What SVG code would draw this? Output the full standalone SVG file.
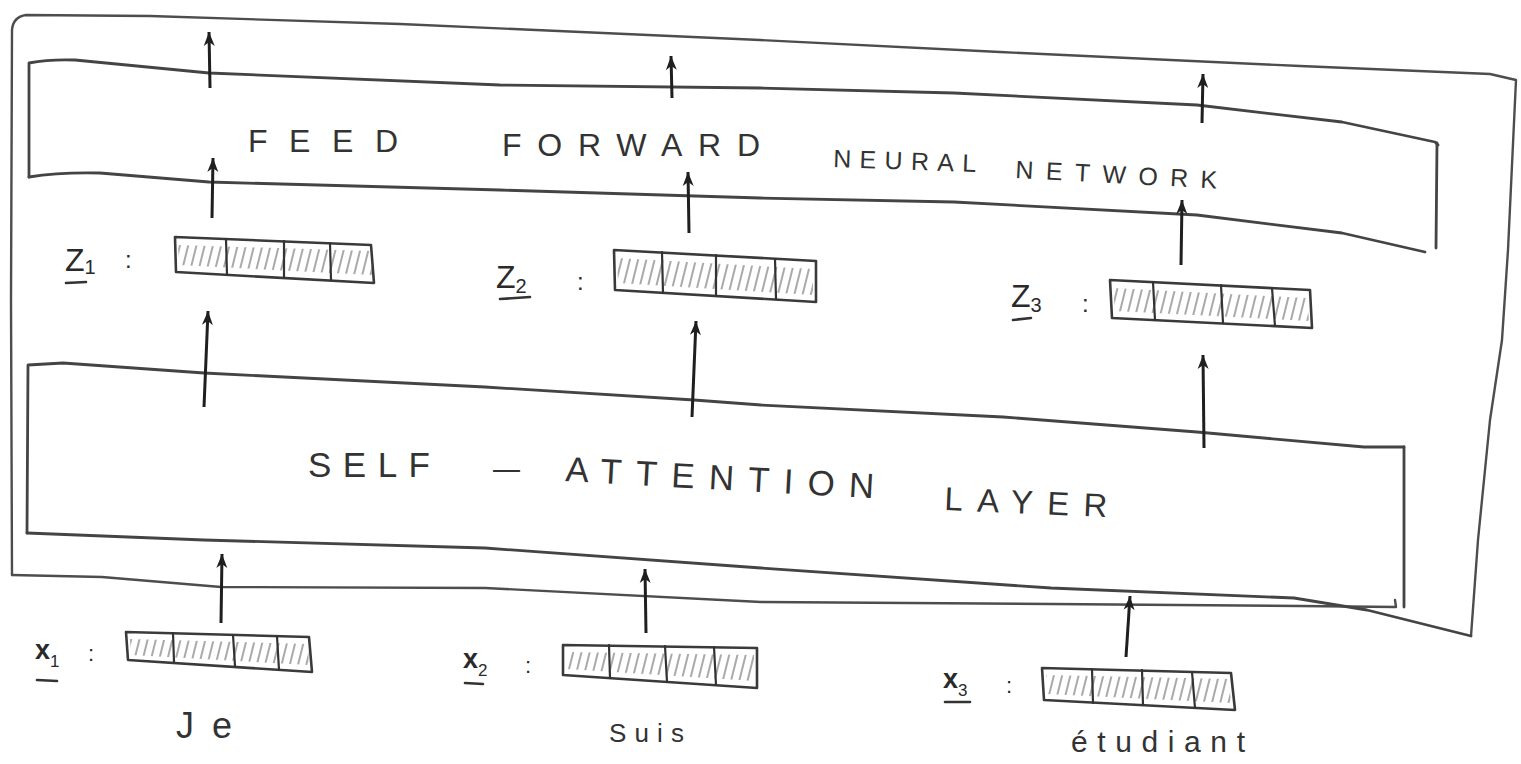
<svg xmlns="http://www.w3.org/2000/svg" width="1521" height="764" viewBox="0 0 1521 764">
  <style>
    .frame { fill: none; stroke: #4d4d4d; stroke-width: 2.4; stroke-linejoin: round; stroke-linecap: round; }
    .box { fill: none; stroke: #444; stroke-width: 2.8; stroke-linejoin: round; stroke-linecap: round; }
    .vec { fill: none; stroke: #3a3a3a; stroke-width: 2.6; stroke-linejoin: round; }
    .div { stroke: #333; stroke-width: 2.2; stroke-linecap: round; }
    .hatchfill { fill: url(#hatch); stroke: none; }
    .arrow { stroke: #1f1f1f; stroke-width: 3; fill: none; stroke-linecap: butt; marker-end: url(#head); }
    .ul { stroke: #333; stroke-width: 2.6; stroke-linecap: round; }
    .t { font-family: "Liberation Sans", Arial, sans-serif; fill: #333; }
    .lab { font-family: "Liberation Sans", Arial, sans-serif; fill: #2a2a2a; }
    .word { font-family: "Liberation Sans", Arial, sans-serif; fill: #333; }
  </style>
  <defs>
    <marker id="head" viewBox="-15 -6 16 12" refX="0" refY="0" markerWidth="16" markerHeight="12" markerUnits="userSpaceOnUse" orient="auto">
      <path d="M0,0 L-14,-5.5 L-10,0 L-14,5.5 Z" fill="#1f1f1f"/>
    </marker>
    <pattern id="hatch" width="8" height="8" patternUnits="userSpaceOnUse" patternTransform="rotate(14)">
      <line x1="2" y1="0" x2="2" y2="8" stroke="#707070" stroke-width="1.2"/>
    </pattern>
  </defs>

  <rect width="1521" height="764" fill="#ffffff"/>

  <!-- encoder outline -->
  <g id="encoder">
    <path class="frame" d="M12,575 L11,300 L12,30 Q13,17 26,15 L150,16 L400,24 L760,40 L1000,52 L1300,66 L1490,74 L1516,80 L1508,250 L1502,340 L1490,420 L1478,540 L1471,636"/>
    <path class="frame" d="M12,575 L102,577 L221,587 L485,588 L761,602 L1051,604 L1300,606 L1396,607 L1395,600"/>
  </g>

  <!-- feed forward block -->
  <g id="ffn">
    <path class="box" d="M29,177 L29,63 Q50,59 75,60 L209,73 L500,85 L760,88 L954,93 L1197,105 L1342,122 L1435,142 L1438,145"/>
    <path class="box" d="M1437,143 L1436,248"/>
    <path class="box" d="M29,177 Q60,172 100,173 L209,182 L500,190 L760,198 L954,202 L1197,215 L1342,233 L1425,252"/>
    <text class="t" x="248" y="152" font-size="32" textLength="150" lengthAdjust="spacing">FEED</text>
    <text class="t" x="502" y="156" font-size="32" textLength="258" lengthAdjust="spacing">FORWARD</text>
    <text class="t" x="833" y="167" font-size="25" textLength="143" lengthAdjust="spacing" transform="rotate(2 833 167)">NEURAL</text>
    <text class="t" x="1015" y="178" font-size="25" textLength="202" lengthAdjust="spacing" transform="rotate(3 1015 178)">NETWORK</text>
  </g>

  <!-- self-attention block -->
  <g id="self-attention">
    <path class="box" d="M27,533 L28,365 L63,363 L204,373 L485,387 L694,400 L761,405 L1003,417 L1197,432 L1364,447 L1404,447"/>
    <path class="box" d="M1404,447 L1404,607"/>
    <path class="box" d="M27,533 L204,540 L485,548 L761,568 L1051,588 L1294,598 L1367,610 L1471,636"/>
    <text class="t" x="308" y="477" font-size="35" textLength="122" lengthAdjust="spacing">SELF</text>
    <text class="t" x="493" y="479" font-size="32" textLength="27" lengthAdjust="spacingAndGlyphs">—</text>
    <text class="t" x="565" y="481" font-size="35" textLength="309" lengthAdjust="spacing" transform="rotate(3.2 565 481)">ATTENTION</text>
    <text class="t" x="944" y="510" font-size="33" textLength="163" lengthAdjust="spacing" transform="rotate(2.5 944 510)">LAYER</text>
  </g>

  <!-- attention outputs z1..z3 -->
  <g id="z1">
    <polygon class="hatchfill" points="178,245 371,251 372,275 179,265"/>
    <polygon class="vec" points="175,237 371,245 374,283 176,272"/>
    <line class="div" x1="226" y1="239" x2="227" y2="275"/>
    <line class="div" x1="284" y1="241" x2="284" y2="278"/>
    <line class="div" x1="330" y1="243" x2="331" y2="280"/>
    <text class="lab" x="65" y="271" font-size="32">Z<tspan font-size="20" dy="3">1</tspan></text>
    <text class="lab" x="125" y="268" font-size="24">:</text>
    <line class="ul" x1="66" y1="283" x2="86" y2="282"/>
  </g>
  <g id="z2">
    <polygon class="hatchfill" points="617,258 813,269 813,295 618,283"/>
    <polygon class="vec" points="614,250 816,261 816,302 615,290"/>
    <line class="div" x1="662" y1="252" x2="663" y2="293"/>
    <line class="div" x1="716" y1="255" x2="716" y2="296"/>
    <line class="div" x1="775" y1="259" x2="776" y2="299"/>
    <text class="lab" x="496" y="288" font-size="32">Z<tspan font-size="20" dy="5">2</tspan></text>
    <text class="lab" x="577" y="290" font-size="24">:</text>
    <line class="ul" x1="500" y1="299" x2="530" y2="297"/>
  </g>
  <g id="z3">
    <polygon class="hatchfill" points="1113,288 1307,298 1309,321 1115,311"/>
    <polygon class="vec" points="1110,280 1310,290 1312,328 1112,318"/>
    <line class="div" x1="1153" y1="282" x2="1155" y2="320"/>
    <line class="div" x1="1221" y1="285" x2="1223" y2="323"/>
    <line class="div" x1="1272" y1="288" x2="1275" y2="326"/>
    <text class="lab" x="1011" y="307" font-size="32">Z<tspan font-size="20" dy="5">3</tspan></text>
    <text class="lab" x="1082" y="312" font-size="24">:</text>
    <line class="ul" x1="1013" y1="320" x2="1031" y2="318"/>
  </g>

  <!-- input embeddings x1..x3 -->
  <g id="x1">
    <polygon class="hatchfill" points="130,639 308,644 309,665 131,655"/>
    <polygon class="vec" points="126,632 309,637 312,672 128,660"/>
    <line class="div" x1="173" y1="633" x2="174" y2="662"/>
    <line class="div" x1="233" y1="635" x2="235" y2="666"/>
    <line class="div" x1="277" y1="636" x2="279" y2="670"/>
    <text class="lab" x="35" y="659" font-size="27" font-weight="bold">x<tspan font-size="17" dy="8" font-weight="normal">1</tspan></text>
    <text class="lab" x="88" y="661" font-size="22">:</text>
    <line class="ul" x1="37" y1="680" x2="57" y2="681"/>
  </g>
  <g id="x2">
    <polygon class="hatchfill" points="567,652 754,655 754,681 567,669"/>
    <polygon class="vec" points="563,645 757,648 757,688 563,675"/>
    <line class="div" x1="609" y1="645" x2="610" y2="678"/>
    <line class="div" x1="665" y1="646" x2="667" y2="682"/>
    <line class="div" x1="714" y1="647" x2="716" y2="685"/>
    <text class="lab" x="463" y="668" font-size="27" font-weight="bold">x<tspan font-size="17" dy="8" font-weight="normal">2</tspan></text>
    <text class="lab" x="525" y="673" font-size="22">:</text>
    <line class="ul" x1="465" y1="683" x2="483" y2="684"/>
  </g>
  <g id="x3">
    <polygon class="hatchfill" points="1046,675 1229,679 1231,703 1047,694"/>
    <polygon class="vec" points="1042,668 1231,673 1235,710 1044,700"/>
    <line class="div" x1="1092" y1="669" x2="1093" y2="703"/>
    <line class="div" x1="1142" y1="670" x2="1143" y2="705"/>
    <line class="div" x1="1192" y1="672" x2="1195" y2="708"/>
    <text class="lab" x="943" y="688" font-size="27" font-weight="bold">x<tspan font-size="17" dy="8" font-weight="normal">3</tspan></text>
    <text class="lab" x="1006" y="693" font-size="22">:</text>
    <line class="ul" x1="945" y1="702" x2="970" y2="702"/>
  </g>

  <!-- source words -->
  <g id="words">
    <text class="word" x="176" y="738" font-size="36" textLength="56" lengthAdjust="spacing">Je</text>
    <text class="word" x="609" y="742" font-size="26" textLength="75" lengthAdjust="spacing">Suis</text>
    <text class="word" x="1071" y="752" font-size="30" textLength="174" lengthAdjust="spacing">étudiant</text>
  </g>

  <!-- data flow arrows -->
  <g id="connectors">
    <line class="arrow" x1="210" y1="88" x2="209" y2="32"/>
    <line class="arrow" x1="672" y1="98" x2="671" y2="56"/>
    <line class="arrow" x1="1202" y1="123" x2="1203" y2="74"/>

    <line class="arrow" x1="212" y1="218" x2="213" y2="158"/>
    <line class="arrow" x1="689" y1="233" x2="688" y2="172"/>
    <line class="arrow" x1="1181" y1="265" x2="1182" y2="200"/>

    <line class="arrow" x1="204" y1="407" x2="208" y2="311"/>
    <line class="arrow" x1="692" y1="417" x2="696" y2="321"/>
    <line class="arrow" x1="1204" y1="448" x2="1203" y2="355"/>

    <line class="arrow" x1="221" y1="623" x2="222" y2="554"/>
    <line class="arrow" x1="646" y1="633" x2="645" y2="569"/>
    <line class="arrow" x1="1126" y1="657" x2="1130" y2="596"/>
  </g>
</svg>
